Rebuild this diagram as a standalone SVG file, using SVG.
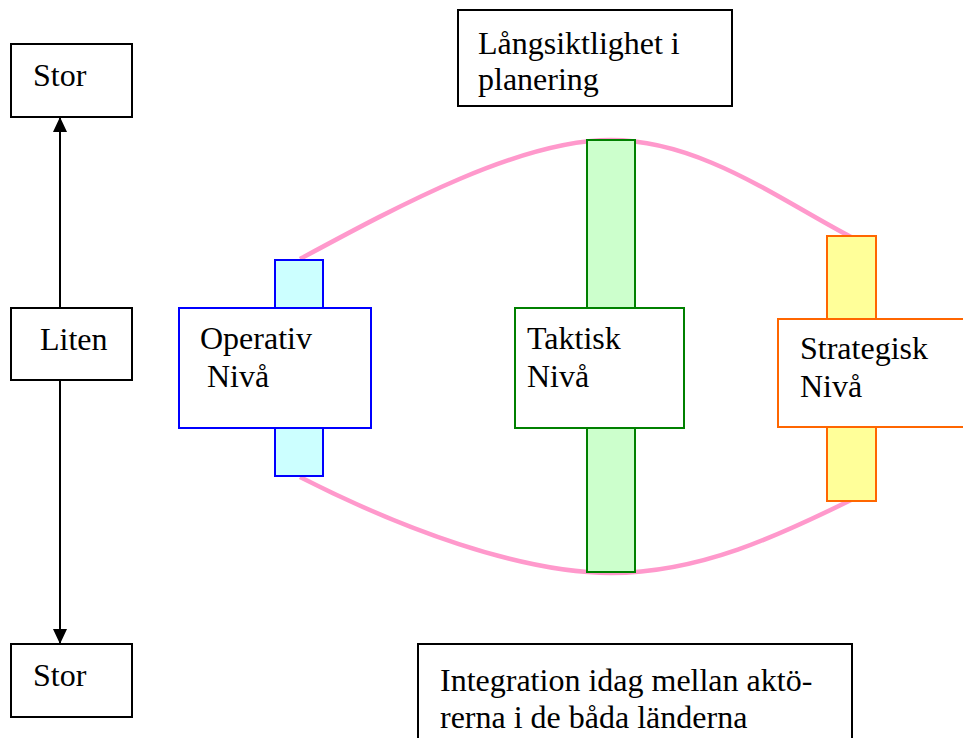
<svg xmlns="http://www.w3.org/2000/svg" width="963" height="738" viewBox="0 0 963 738">
<style>
  text { font-family: "Liberation Serif", "Times New Roman", serif; font-size: 32px; fill: #000; }
  .box { fill: #fff; stroke: #000; stroke-width: 2; }
  .blue { stroke: #0000FF; stroke-width: 2; }
  .green { stroke: #008000; stroke-width: 2; }
  .orange { stroke: #FF6600; stroke-width: 2; }
  .curve { fill: none; stroke: #FF99CC; stroke-width: 4.5; }
  .axis { stroke: #000; stroke-width: 2; fill: none; }
</style>
<defs>
  <marker id="arrow" viewBox="0 0 15 14" refX="15" refY="7" markerWidth="15" markerHeight="14" markerUnits="userSpaceOnUse" orient="auto">
    <path d="M0,0 L15,7 L0,14 Z" fill="#000"/>
  </marker>
</defs>
<rect width="963" height="738" fill="#fff"/>

<g id="connectors">
  <line class="axis" x1="60" y1="308" x2="60" y2="117" marker-end="url(#arrow)"/>
  <line class="axis" x1="60" y1="380" x2="60" y2="644" marker-end="url(#arrow)"/>
  <path class="curve" d="M300,259 C400,205 520,140 611,140 C700,140 780,200 851,237"/>
  <path class="curve" d="M300,477 C400,528 520,573 611,573 C700,573 780,535 851,500"/>
</g>

<g id="stor-top">
  <rect class="box" x="11" y="44" width="121" height="73"/>
  <text x="33" y="86">Stor</text>
</g>
<g id="liten">
  <rect class="box" x="11" y="308" width="121" height="72"/>
  <text x="40" y="350">Liten</text>
</g>
<g id="stor-bottom">
  <rect class="box" x="11" y="644" width="121" height="73"/>
  <text x="33" y="686">Stor</text>
</g>

<g id="langsiktlighet">
  <rect class="box" x="458" y="10" width="274" height="96"/>
  <text x="478" y="54">Långsiktlighet i</text>
  <text x="478" y="90">planering</text>
</g>

<g id="integration">
  <rect class="box" x="418" y="644" width="434" height="100"/>
  <text x="440" y="691">Integration idag mellan aktö-</text>
  <text x="440" y="728">rerna i de båda länderna</text>
</g>

<g id="operativ">
  <rect class="blue" fill="#CCFFFF" x="275" y="260" width="48" height="48"/>
  <rect class="blue" fill="#CCFFFF" x="275" y="428" width="48" height="48"/>
  <rect class="blue" fill="#fff" x="179" y="308" width="192" height="120"/>
  <text x="200" y="349">Operativ</text>
  <text x="207" y="387">Nivå</text>
</g>

<g id="taktisk">
  <rect class="green" fill="#CCFFCC" x="587" y="140" width="48" height="168"/>
  <rect class="green" fill="#CCFFCC" x="587" y="428" width="48" height="144"/>
  <rect class="green" fill="#fff" x="515" y="308" width="169" height="120"/>
  <text x="527" y="349">Taktisk</text>
  <text x="527" y="387">Nivå</text>
</g>

<g id="strategisk">
  <rect class="orange" fill="#FFFF99" x="827" y="236" width="49" height="83"/>
  <rect class="orange" fill="#FFFF99" x="827" y="427" width="49" height="74"/>
  <rect class="orange" fill="#fff" x="778" y="319" width="190" height="108"/>
  <text x="800" y="359">Strategisk</text>
  <text x="800" y="397">Nivå</text>
</g>
</svg>
